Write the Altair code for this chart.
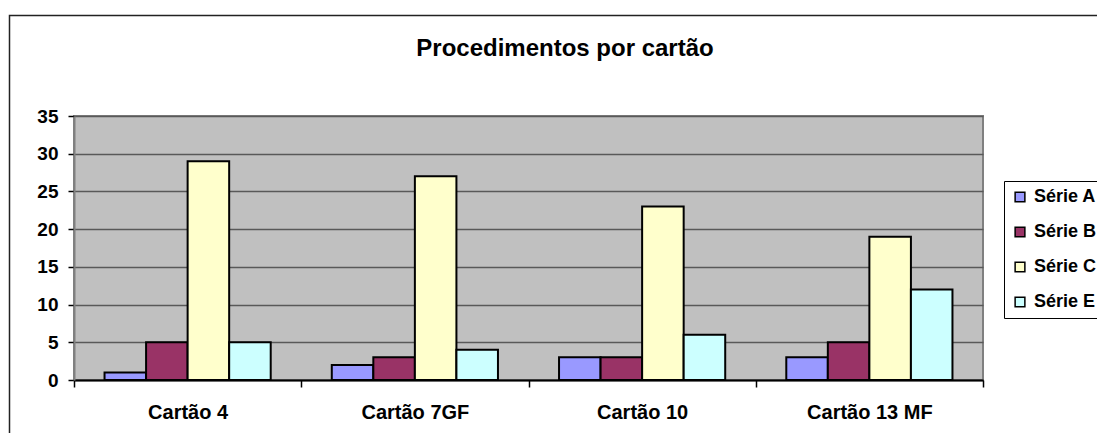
import altair as alt
import pandas as pd

categories = ["Cartão 4", "Cartão 7GF", "Cartão 10", "Cartão 13 MF"]
series = ["Série A", "Série B", "Série C", "Série E"]
serie_a = [1, 2, 3, 3]
serie_b = [5, 3, 3, 5]
serie_c = [29, 27, 23, 19]
serie_e = [5, 4, 6, 12]
colors = ["#9999FF", "#993366", "#FFFFCC", "#CCFFFF"]
y_ticks = [0, 5, 10, 15, 20, 25, 30, 35]
title_text = ["Procedimentos por cartão"]

rows = []
for s, vals in zip(series, [serie_a, serie_b, serie_c, serie_e]):
    for c, v in zip(categories, vals):
        rows.append({"Cartão": c, "Série": s, "Valor": v})
df = pd.DataFrame(rows)

W, H = 909, 264
PL, PT, PR, PB = 66, 108, 114, 53

bars = alt.Chart(df).mark_bar(stroke="black", strokeWidth=2, opacity=1).encode(
    x=alt.X("Cartão:N", sort=categories, title=None,
            scale=alt.Scale(paddingInner=0, paddingOuter=0),
            axis=alt.Axis(labelAngle=0, tickBand="extent", tickSize=7,
                          labelPadding=15, labelFontSize=20, labelFontWeight="bold",
                          labelFont="Liberation Sans", labelColor="black",
                          domainColor="black", domainWidth=2, tickColor="black",
                          tickWidth=1.5, grid=False)),
    xOffset=alt.XOffset("Série:N", sort=series,
                        scale=alt.Scale(paddingInner=0, paddingOuter=0.735)),
    y=alt.Y("Valor:Q", title=None,
            scale=alt.Scale(domain=[0, 35], nice=False),
            axis=alt.Axis(values=y_ticks, tickSize=6, labelPadding=10,
                          labelFontSize=19, labelFontWeight="bold",
                          labelFont="Liberation Sans", labelColor="black",
                          domainColor="#808080", domainWidth=2,
                          tickColor="black", tickWidth=1.5,
                          grid=True, gridColor="#595959", gridWidth=1.5)),
    color=alt.Color("Série:N", sort=series,
                    scale=alt.Scale(domain=series, range=colors),
                    legend=alt.Legend(title=None, orient="none", legendX=930, legendY=65,
                                      symbolType="square", symbolSize=95,
                                      symbolStrokeColor="black", symbolStrokeWidth=1.5,
                                      symbolOpacity=1,
                                      labelFontSize=18, labelFontWeight="bold",
                                      labelFont="Liberation Sans", labelColor="black",
                                      labelOffset=5, rowPadding=17, padding=7,
                                      fillColor="white", strokeColor="black")),
)

frame_df = pd.DataFrame({"k": [0]})
frame = alt.Chart(frame_df).mark_rect(fill="transparent", stroke="#222222",
                                       strokeWidth=1.5).encode(
    x=alt.value(-PL + 1.5), x2=alt.value(W + PR + 20),
    y=alt.value(-PT + 7.5), y2=alt.value(H + PB + 20),
)

title_df = pd.DataFrame({"t": title_text})
title = alt.Chart(title_df).mark_text(
    font="Liberation Sans", fontSize=24, fontWeight="bold", color="black",
    align="center", baseline="alphabetic",
).encode(text="t:N", x=alt.value(491), y=alt.value(-60))

chart = alt.layer(frame, bars, title).properties(
    width=W, height=H,
    padding={"left": PL, "top": PT, "right": PR, "bottom": PB},
    autosize=alt.AutoSizeParams(type="none"),
    background="white",
).configure_view(
    fill="#C0C0C0", stroke="#808080", strokeWidth=2
)

chart.save("out.html", embed_options={"renderer": "svg", "actions": False})
